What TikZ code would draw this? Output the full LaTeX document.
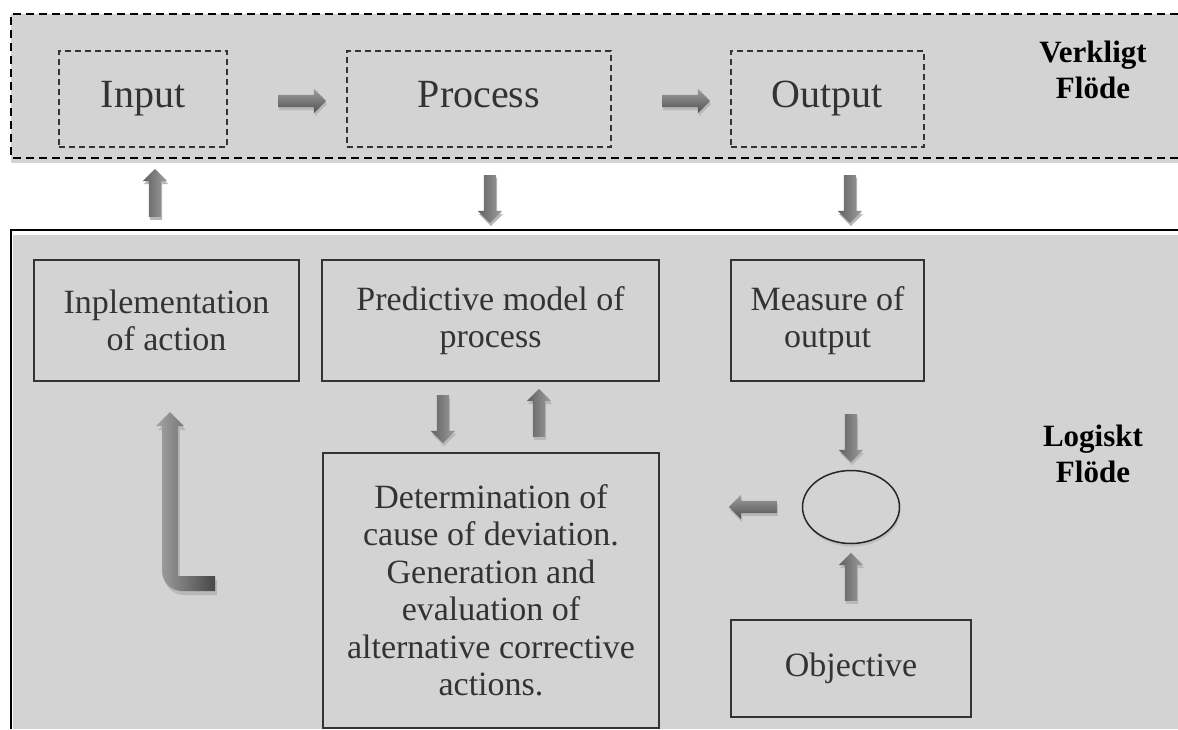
\documentclass[tikz,border=0pt]{standalone}
\usepackage{fontspec}
\setmainfont{Liberation Serif}
\usetikzlibrary{shapes.arrows,shapes.geometric,shadows}
\definecolor{panelgray}{RGB}{211,211,211}
\definecolor{inkgray}{RGB}{51,51,51}
\tikzset{
  realbox/.style={draw=inkgray,dash pattern=on 6pt off 4pt,line width=1.3pt,inner sep=0pt,text=inkgray,
    text height=28pt,text depth=12pt,font=\fontsize{40}{48}\selectfont},
  logicbox/.style={draw=inkgray,line width=1.5pt,fill=panelgray,inner sep=0pt,align=center,text=inkgray,font=\fontsize{34}{37.5}\selectfont},
  blockarrow/.style={single arrow,minimum height=48pt,inner sep=6pt,single arrow head extend=6pt,
    drop shadow={shadow xshift=1pt,shadow yshift=-3pt,fill=black!28,opacity=1}},
  varrow/.style={blockarrow,left color=black!62,right color=black!38},
  harrow/.style={blockarrow,top color=black!38,bottom color=black!68},
  flowlabel/.style={align=center,font=\bfseries\fontsize{31}{36}\selectfont}
}
\begin{document}
\begin{tikzpicture}[x=1pt,y=-1pt]
	\useasboundingbox (0,0) rectangle (1178,729);
	\fill[panelgray] (11,14) rectangle (1178,163);
	\draw[line width=2pt,dash pattern=on 8pt off 5pt] (1178,14) -- (11,14) -- (11,158) -- (1178,158);
	\fill[panelgray] (13,235) rectangle (1178,729);
	\draw[line width=2pt] (1178,230) -- (11,230) -- (11,729);
	\node[realbox,minimum width=168pt,minimum height=96pt] (input) at (143,99) {Input};
	\node[realbox,minimum width=264pt,minimum height=96pt] (process) at (479,99) {Process};
	\node[realbox,minimum width=193pt,minimum height=96pt] (output) at (827.5,99) {Output};
	\node[flowlabel] (real) at (1093,70) {Verkligt\\Flöde};
	\node[flowlabel] (logic) at (1093,454) {Logiskt\\Flöde};
	\node[harrow] (inproc) at (299,101) {};
	\node[harrow] (procout) at (683,101) {};
	\node[varrow,shape border rotate=90] (toinput) at (155,196) {};
	\node[varrow,shape border rotate=270] (fromproc) at (490,196) {};
	\node[varrow,shape border rotate=270] (fromout) at (850,196) {};
	\node[logicbox,minimum width=265pt,minimum height=121pt] (impl) at (166.5,320.5) {Inplementation\\of action};
	\node[logicbox,minimum width=337pt,minimum height=121pt] (model) at (490.5,320.5) {Predictive model of\\process};
	\node[logicbox,minimum width=193pt,minimum height=121pt] (measure) at (827.5,320.5) {Measure of\\output};
	\node[logicbox,minimum width=336pt,minimum height=275pt] (cause) at (491,590.5) {Determination of\\cause of deviation.\\Generation and\\evaluation of\\alternative corrective\\actions.};
	\node[logicbox,minimum width=240pt,minimum height=97pt] (objective) at (851,668.5) {Objective};
	\node[ellipse,draw=black!85,line width=1.5pt,minimum width=97pt,minimum height=73pt,inner sep=0pt,
		drop shadow={shadow xshift=1pt,shadow yshift=-3pt,fill=black!25,opacity=1},fill=panelgray] (compare) at (851,507) {};
	\node[varrow,shape border rotate=270] (modeldown) at (443,416) {};
	\node[varrow,shape border rotate=90] (modelup) at (539,416) {};
	\node[varrow,shape border rotate=270] (measuredown) at (851,435) {};
	\node[harrow,shape border rotate=180] (compareleft) at (756,507) {};
	\node[varrow,shape border rotate=90] (objectiveup) at (851,580) {};
	\fill[black!28] (172,416) -- (186,430) -- (180,430) -- (180,580) -- (217,580) -- (217,595)
		-- (184,595) .. controls (173,595) and (164,586) .. (164,575) -- (164,430) -- (158,430) -- cycle;
	\shade[left color=black!36,right color=black!72] (170,412) -- (184,426) -- (178,426) -- (178,576) -- (215,576) -- (215,591)
		-- (182,591) .. controls (171,591) and (162,582) .. (162,571) -- (162,426) -- (156,426) -- cycle;
\end{tikzpicture}
\end{document}
